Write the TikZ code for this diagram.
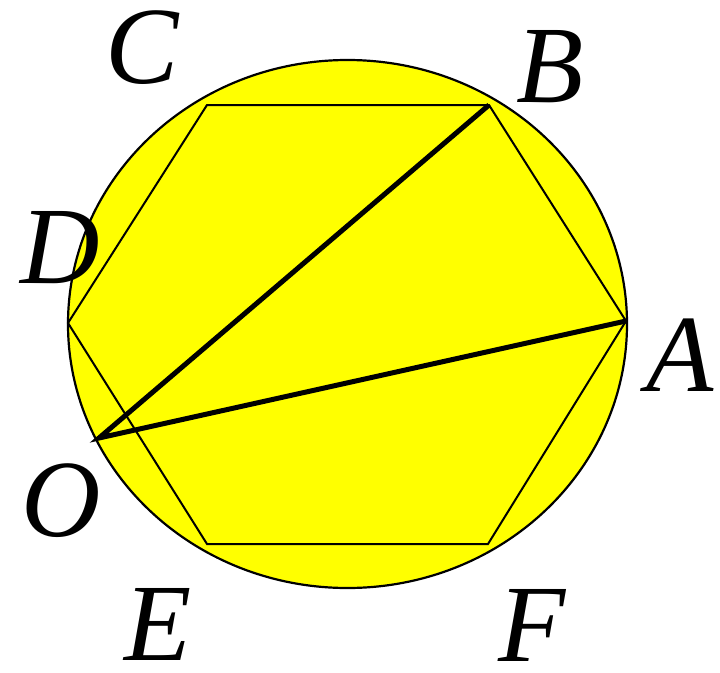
\documentclass[tikz,border=0pt]{standalone}
\usepackage{fontspec}
\setmainfont{Liberation Serif}
\definecolor{fillyellow}{RGB}{255,255,0}
\begin{document}
\begin{tikzpicture}[x=1pt,y=-1pt,
  lab/.style={inner sep=0pt, font=\fontsize{110}{120}\selectfont\itshape},
  thin edge/.style={line width=2pt, line join=miter},
  thick edge/.style={line width=5pt, line join=miter}]
\useasboundingbox (0,0) rectangle (720,672);
\fill[fillyellow, draw=black, line width=2.2pt] (347.5,324) ellipse [x radius=279.5pt, y radius=264pt];
\coordinate (A) at (626,321);
\coordinate (B) at (489,105);
\coordinate (C) at (207,105);
\coordinate (D) at (68,323);
\coordinate (E) at (207,544);
\coordinate (F) at (488,544);
\coordinate (O) at (99,438);
\draw[thin edge] (A)--(B)--(C)--(D)--(E)--(F)--cycle;
\draw[thick edge] (B)--(O)--(A);
\node[lab] (lA) at (680,355) {A};
\node[lab] (lB) at (550,67) {B};
\node[lab] (lC) at (142,48) {C};
\node[lab] (lD) at (60,248) {D};
\node[lab] (lO) at (61,501) {O};
\node[lab] (lE) at (158,624) {E};
\node[lab] (lF) at (532,625) {F};
\end{tikzpicture}
\end{document}
